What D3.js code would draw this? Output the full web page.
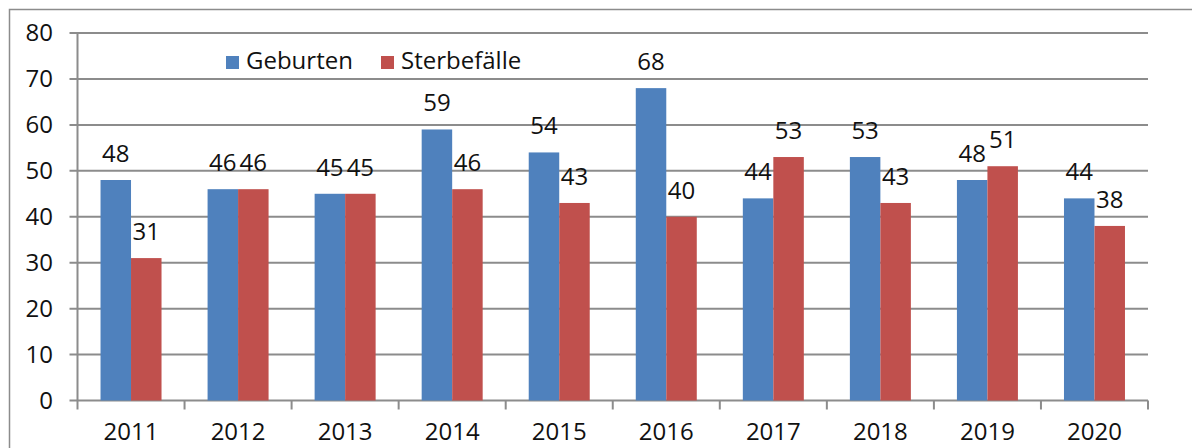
<!DOCTYPE html>
<html>
<head>
<meta charset="utf-8">
<script src="https://cdn.jsdelivr.net/npm/d3@7"></script>
<style>
  body { margin: 0; background: #fff; }
  svg text { font-family: "Open Sans", sans-serif; fill: #111; }
</style>
</head>
<body>
<div id="chart"></div>
<script>
var years = ["2011", "2012", "2013", "2014", "2015", "2016", "2017", "2018", "2019", "2020"];
var geburten = [48, 46, 45, 59, 54, 68, 44, 53, 48, 44];
var sterbefaelle = [31, 46, 45, 46, 43, 40, 53, 43, 51, 38];
var seriesNames = ["Geburten", "Sterbefälle"];
var colors = ["#4f81bd", "#c0504d"];
var yTicks = [0, 10, 20, 30, 40, 50, 60, 70, 80];

var W = 1192, H = 448;
var x0 = 77.5, x1 = 1148, yTop = 33, yBot = 400.5;

var svg = d3.select("#chart").append("svg")
    .attr("width", W)
    .attr("height", H);

// outer frame
svg.append("rect")
    .attr("x", 9.5).attr("y", 9.5)
    .attr("width", W).attr("height", H)
    .attr("fill", "none")
    .attr("stroke", "#8c8c8c")
    .attr("stroke-width", 1.5);

var x = d3.scaleBand().domain(years).range([x0, x1]).paddingInner(0).paddingOuter(0);
var xs = d3.scaleBand().domain(seriesNames).range([0, x.bandwidth()]).paddingInner(0).paddingOuter(0.755);
var y = d3.scaleLinear().domain([0, 80]).range([yBot, yTop]);

// gridlines
svg.append("g")
    .selectAll("line")
    .data(yTicks)
    .enter()
    .append("line")
    .attr("x1", x0 - 8).attr("x2", x1)
    .attr("y1", function (d) { return y(d); })
    .attr("y2", function (d) { return y(d); })
    .attr("stroke", "#8c8c8c")
    .attr("stroke-width", 2);

// y axis line
svg.append("line")
    .attr("x1", x0).attr("x2", x0)
    .attr("y1", yTop).attr("y2", yBot)
    .attr("stroke", "#8c8c8c")
    .attr("stroke-width", 2);

// y labels
svg.append("g")
    .selectAll("text")
    .data(yTicks)
    .enter()
    .append("text")
    .attr("x", 53)
    .attr("y", function (d) { return y(d); })
    .attr("dy", "0.35em")
    .attr("text-anchor", "end")
    .style("font-size", "24px")
    .text(function (d) { return d; });

// x ticks
var xTickPos = years.map(function (d) { return x(d); }).concat([x1]);
svg.append("g")
    .selectAll("line")
    .data(xTickPos)
    .enter()
    .append("line")
    .attr("x1", function (d) { return d; })
    .attr("x2", function (d) { return d; })
    .attr("y1", yBot)
    .attr("y2", yBot + 9)
    .attr("stroke", "#8c8c8c")
    .attr("stroke-width", 2);

// x labels
svg.append("g")
    .selectAll("text")
    .data(years)
    .enter()
    .append("text")
    .attr("x", function (d) { return x(d) + x.bandwidth() / 2; })
    .attr("y", 440)
    .attr("text-anchor", "middle")
    .style("font-size", "24px")
    .text(function (d) { return d; });

var dataReady = years.map(function (yr, i) {
    return [
        { year: yr, name: seriesNames[0], value: geburten[i] },
        { year: yr, name: seriesNames[1], value: sterbefaelle[i] }
    ];
});

var groups = svg.append("g")
    .selectAll("g")
    .data(dataReady)
    .enter()
    .append("g")
    .attr("transform", function (d) { return "translate(" + x(d[0].year) + ",0)"; });

groups.selectAll("rect")
    .data(function (d) { return d; })
    .enter()
    .append("rect")
    .attr("x", function (d) { return xs(d.name); })
    .attr("width", xs.bandwidth())
    .attr("y", function (d) { return y(d.value); })
    .attr("height", function (d) { return yBot - y(d.value); })
    .attr("fill", function (d, i) { return colors[i]; });

groups.selectAll("text")
    .data(function (d) { return d; })
    .enter()
    .append("text")
    .attr("x", function (d) { return xs(d.name) + xs.bandwidth() / 2; })
    .attr("y", function (d) { return y(d.value) - 18; })
    .attr("text-anchor", "middle")
    .style("font-size", "24px")
    .text(function (d) { return d.value; });

// legend
var legendX = [226, 381];
var legend = svg.append("g")
    .selectAll("g")
    .data(seriesNames)
    .enter()
    .append("g")
    .attr("transform", function (d, i) { return "translate(" + legendX[i] + ",56)"; });
legend.append("rect")
    .attr("width", 13).attr("height", 13)
    .attr("fill", function (d, i) { return colors[i]; });
legend.append("text")
    .attr("x", 20)
    .attr("y", 13)
    .style("font-size", "24px")
    .text(function (d) { return d; });
</script>
</body>
</html>
